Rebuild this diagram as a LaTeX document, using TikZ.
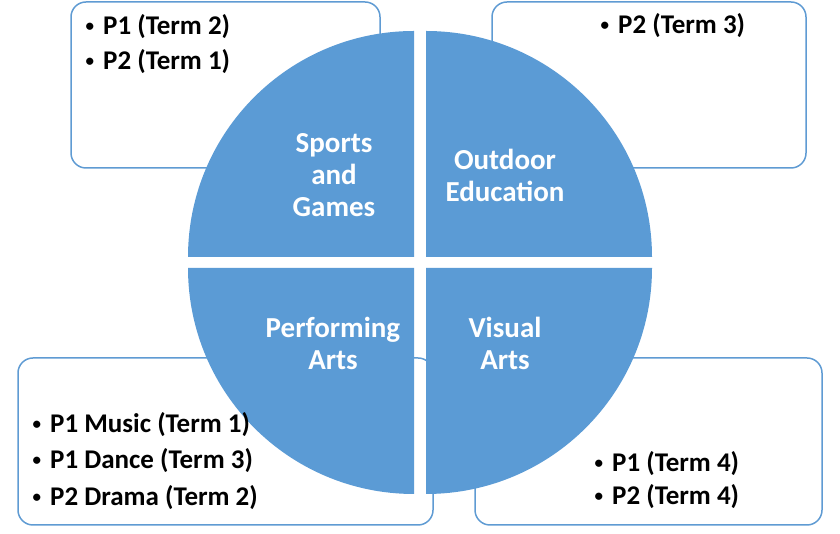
\documentclass[tikz,border=0pt]{standalone}
\usepackage{fontspec}
\setmainfont{Carlito}
\definecolor{quadblue}{HTML}{5B9BD5}
\definecolor{boxblue}{HTML}{5F9BD3}
\tikzset{
	infobox/.style = {draw = boxblue, line width = 1.5pt, fill = white, rounded corners = 15pt},
	quad/.style = {fill = quadblue},
	item/.style = {anchor = base west, inner sep = 0pt, font = \fontsize{27}{36}\selectfont\bfseries},
	sector/.style = {anchor = base, inner sep = 0pt, text = white, font = \fontsize{29}{32}\selectfont\bfseries}
}
\newcommand{\bul}{\llap{\raisebox{3.5pt}{\fontsize{17}{17}\selectfont\textbullet}\hspace{9pt}}}
\begin{document}
\begin{tikzpicture}[x = 1pt, y = 1pt]
			\useasboundingbox (0,0) rectangle (840,534);
			
			% Boxes
			\draw[infobox] (71,366) rectangle (380,532);
			\draw[infobox] (492,366) rectangle (806,532);
			\draw[infobox] (18,9) rectangle (433,176);
			\draw[infobox] (475,9) rectangle (822,176);
			
			% Quadrants
			\fill[quad] (414,277) -- ++(-226,0) arc[start angle = 180, end angle = 90, radius = 226] -- cycle;
			\fill[quad] (426,277) -- ++(0,226) arc[start angle = 90, end angle = 0, radius = 226] -- cycle;
			\fill[quad] (414,266) -- ++(0,-226) arc[start angle = 270, end angle = 180, radius = 226] -- cycle;
			\fill[quad] (426,266) -- ++(226,0) arc[start angle = 0, end angle = -90, radius = 226] -- cycle;
			
			% Sector labels
			\node[sector] (sg1) at (334,381) {Sports};
			\node[sector] (sg2) at (334,349) {and};
			\node[sector] (sg3) at (334,317) {Games};
			\node[sector] (oe1) at (505,364) {Outdoor};
			\node[sector] (oe2) at (505,332) {Education};
			\node[sector] (pa1) at (333,196) {Performing};
			\node[sector] (pa2) at (333,164) {Arts};
			\node[sector] (va1) at (505,196) {Visual};
			\node[sector] (va2) at (505,164) {Arts};
			
			% Box lists
			\node[item] (sgt1) at (103,499) {\bul P1 (Term 2)};
			\node[item] (sgt2) at (103,464) {\bul P2 (Term 1)};
			\node[item] (oet1) at (618,500) {\bul P2 (Term 3)};
			\node[item] (pat1) at (50,101) {\bul P1 Music (Term 1)};
			\node[item] (pat2) at (50,65) {\bul P1 Dance (Term 3)};
			\node[item] (pat3) at (50,28) {\bul P2 Drama (Term 2)};
			\node[item] (vat1) at (612,62) {\bul P1 (Term 4)};
			\node[item] (vat2) at (612,29) {\bul P2 (Term 4)};
		\end{tikzpicture}
\end{document}
